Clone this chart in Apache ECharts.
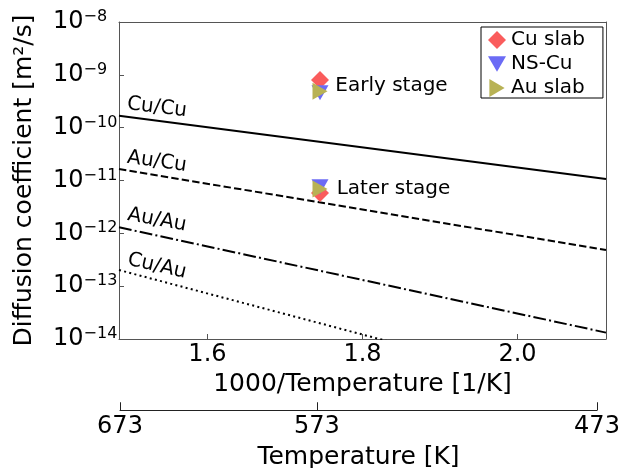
<!DOCTYPE html>
<html>
<head>
<meta charset="utf-8">
<script src="https://cdn.jsdelivr.net/npm/echarts@6/dist/echarts.min.js"></script>
<style>html,body{margin:0;padding:0;background:#fff}#c{width:632px;height:468px}</style>
</head>
<body>
<div id="c"></div>
<script>
// ---- data ----
const xEnds = [1000 / 673, 1000 / 473];          // 1000/T range of the plot
const lineNames = ['Cu/Cu', 'Au/Cu', 'Au/Au', 'Cu/Au'];
const cuCu = [1.68e-10, 1.07e-11];
const auCu = [1.65e-11, 4.83e-13];
const auAu = [1.30e-12, 1.32e-14];
const cuAu = [2.02e-13, 7.3e-16];
const invTTicks = [1.6, 1.8, 2.0];
const tempTicks = [673, 573, 473];
const sampleTemp = 573;
const stageNames = ['Early stage', 'Later stage'];
const cuSlab = [8.0e-10, 5.8e-12];
const nsCu = [4.6e-10, 7.6e-12];
const auSlab = [4.9e-10, 6.9e-12];
// annotation anchors (data coords)
const lineLabelX = [1.5348, 1.5348, 1.5348, 1.5348];
const lineLabelY = [2.41e-10, 2.27e-11, 1.79e-12, 2.4e-13];
const lineLabelRot = [-7, -8, -10.5, -13];
const stageLabelX = [1.8374, 1.8400];
const stageLabelY = [6.2e-10, 7.0e-12];

const FONT = 'DejaVu Sans';
const axisCol = '#555';
const sx = 1000 / sampleTemp;
const downTri = 'path://M0,0 L20,0 L10,17 Z';
const rightTri = 'path://M0,0 L17,10 L0,20 Z';
const colors = { cu: '#fa5c5c', ns: '#6b6bf5', au: '#b8b255' };

function lineSeries(name, vals, type) {
  return {
    name: name, type: 'line', xAxisIndex: 0, yAxisIndex: 0,
    data: [[xEnds[0], vals[0]], [xEnds[1], vals[1]]],
    symbol: 'none', silent: true, clip: true,
    lineStyle: { color: '#000', width: 2, type: type, cap: 'butt' },
    z: 2
  };
}
function markerSeries(name, vals, symbol, size, color) {
  return {
    name: name, type: 'scatter', xAxisIndex: 0, yAxisIndex: 0,
    data: [[sx, vals[0]], [sx, vals[1]]],
    symbol: symbol, symbolSize: size,
    itemStyle: { color: color, opacity: 1 },
    z: 5
  };
}
function textSeries(name, names, xs, ys, rots) {
  return {
    name: name, type: 'scatter', silent: true, z: 6,
    data: names.map((n, i) => ({ name: n, value: [xs[i], ys[i]],
      label: { rotate: rots ? rots[i] : 0 } })),
    symbolSize: 0, itemStyle: { color: '#000' },
    label: { show: true, position: [0, 0], align: 'center', verticalAlign: 'middle',
      formatter: p => p.name, fontSize: 20, opacity: 1,
      color: '#000', textBorderWidth: 0, fontFamily: FONT }
  };
}

const chart = echarts.init(document.getElementById('c'), null, { renderer: 'canvas' });
chart.setOption({
  animation: false,
  backgroundColor: '#fff',
  textStyle: { fontFamily: FONT },
  grid: [
    { left: 119, right: 26, top: 22, bottom: 129, containLabel: false },
    { left: 120, width: 477, top: 410, height: 1, containLabel: false }
  ],
  xAxis: [
    {
      type: 'value', gridIndex: 0, position: 'bottom',
      min: xEnds[0], max: xEnds[1],
      axisLine: { show: true, onZero: false, lineStyle: { color: axisCol, width: 1 } },
      axisTick: { show: true, inside: true, length: 5, customValues: invTTicks, lineStyle: { color: axisCol } },
      axisLabel: { show: true, customValues: invTTicks, margin: 4, fontSize: 24, color: '#000', fontFamily: FONT,
        formatter: v => v.toFixed(1) },
      splitLine: { show: false },
      name: '1000/Temperature [1/K]', nameLocation: 'middle', nameGap: 31,
      nameTextStyle: { fontSize: 25, color: '#000', fontFamily: FONT }
    },
    {
      type: 'value', gridIndex: 0, position: 'top',
      min: xEnds[0], max: xEnds[1],
      axisLine: { show: true, onZero: false, lineStyle: { color: axisCol, width: 1 } },
      axisTick: { show: false }, axisLabel: { show: false }, splitLine: { show: false }
    },
    {
      type: 'value', gridIndex: 1, position: 'bottom',
      min: xEnds[0], max: xEnds[1],
      axisLine: { show: true, onZero: false, lineStyle: { color: '#222', width: 1 } },
      axisTick: { show: true, inside: true, length: 8, customValues: tempTicks.map(t => 1000 / t), lineStyle: { color: '#222' } },
      axisLabel: { show: true, customValues: tempTicks.map(t => 1000 / t), margin: 5, fontSize: 24, color: '#000', fontFamily: FONT,
        showMinLabel: true, showMaxLabel: true,
        formatter: v => String(Math.round(1000 / v)) },
      splitLine: { show: false },
      name: 'Temperature [K]', nameLocation: 'middle', nameGap: 35,
      nameTextStyle: { fontSize: 25, color: '#000', fontFamily: FONT }
    }
  ],
  yAxis: [
    {
      type: 'log', gridIndex: 0, logBase: 10, min: 1e-14, max: 1e-8, interval: 1,
      axisLine: { show: true, lineStyle: { color: axisCol, width: 1 } },
      axisTick: { show: true, inside: true, length: 5, lineStyle: { color: axisCol } },
      minorTick: { show: false },
      splitLine: { show: false },
      axisLabel: {
        show: true, align: 'left', margin: 66, color: '#000', fontFamily: FONT,
        formatter: v => '{b|10}{s|' + String(Math.round(Math.log10(v))).replace('-', '\u2212') + '}',
        rich: {
          b: { fontSize: 24, lineHeight: 26, fontFamily: FONT, color: '#000' },
          s: { fontSize: 16, lineHeight: 18, verticalAlign: 'top', fontFamily: FONT, color: '#000' }
        }
      },
      name: 'Diffusion coefficient [m\u00b2/s]', nameLocation: 'middle', nameGap: 82, nameRotate: 90,
      nameTextStyle: { fontSize: 25, color: '#000', fontFamily: FONT }
    },
    {
      type: 'log', gridIndex: 0, logBase: 10, min: 1e-14, max: 1e-8, position: 'right',
      axisLine: { show: true, lineStyle: { color: axisCol, width: 1 } },
      axisTick: { show: false }, axisLabel: { show: false }, splitLine: { show: false }
    },
    {
      type: 'value', gridIndex: 1, show: false, min: 0, max: 1
    }
  ],
  legend: {
    data: [
      { name: 'Cu slab', icon: 'diamond' },
      { name: 'NS-Cu', icon: downTri },
      { name: 'Au slab', icon: rightTri }
    ],
    orient: 'vertical', left: 481, top: 27,
    padding: [3, 18, 0, 7], itemGap: 4, itemWidth: 18, itemHeight: 18,
    borderColor: '#000', borderWidth: 1, borderRadius: 0, backgroundColor: '#fff',
    textStyle: { fontSize: 20, lineHeight: 20, color: '#000', fontFamily: FONT },
    selectedMode: false
  },
  series: [
    lineSeries(lineNames[0], cuCu, 'solid'),
    lineSeries(lineNames[1], auCu, [7.4, 3.2]),
    lineSeries(lineNames[2], auAu, [12.8, 3.2, 2, 3.2]),
    lineSeries(lineNames[3], cuAu, [2, 3.3]),
    markerSeries('Cu slab', cuSlab, 'diamond', 18, colors.cu),
    markerSeries('NS-Cu', nsCu, downTri, [17, 15], colors.ns),
    markerSeries('Au slab', auSlab, rightTri, [15, 17], colors.au),
    textSeries('lineLabels', lineNames, lineLabelX, lineLabelY, lineLabelRot),
    textSeries('stageLabels', stageNames, stageLabelX, stageLabelY, null)
  ]
});
</script>
</body>
</html>
